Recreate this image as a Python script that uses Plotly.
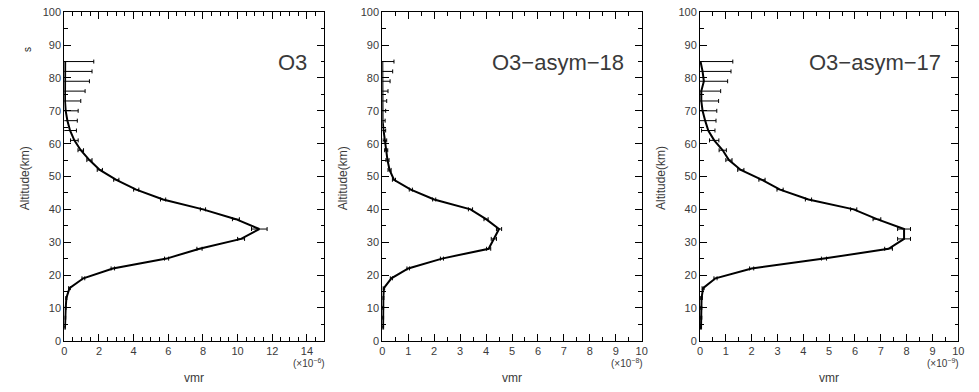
import plotly.graph_objects as go

# Altitude grid (km)
altitude = [85, 82, 79, 76, 73, 70, 67, 64, 61, 58, 55, 52, 49, 46, 43, 40,
            37, 34, 31, 28, 25, 22, 19, 16, 13, 10, 7, 4]

# Panel 1: O3 (x1e-6)
o3 = [0.05, 0.05, 0.04, 0.03, 0.04, 0.08, 0.18, 0.33, 0.58, 0.95, 1.45, 2.05,
      3.0, 4.15, 5.7, 8.0, 9.9, 11.25, 10.2, 7.8, 5.9, 2.8, 1.1, 0.3, 0.12,
      0.08, 0.06, 0.04]
o3_err = [1.65, 1.55, 1.41, 1.17, 0.91, 0.72, 0.57, 0.37, 0.22, 0.16, 0.15,
          0.15, 0.15, 0.15, 0.15, 0.15, 0.2, 0.45, 0.2, 0.15, 0.12, 0.1,
          0.08, 0.05, 0.03, 0.02, 0.02, 0.02]

# Panel 2: O3-asym-18 (x1e-8)
asym18 = [0.0, 0.0, 0.0, 0.0, 0.0, 0.0, 0.01, 0.05, 0.1, 0.15, 0.2,
          0.28, 0.45, 1.1, 2.0, 3.4, 4.0, 4.5, 4.3, 4.1, 2.3, 1.0, 0.35, 0.06,
          0.04, 0.03, 0.03, 0.03]
asym18_err = [0.45, 0.4, 0.3, 0.22, 0.17, 0.13, 0.1, 0.08, 0.07, 0.06, 0.06,
              0.06, 0.06, 0.06, 0.06, 0.08, 0.08, 0.1, 0.1, 0.08, 0.06, 0.05,
              0.04, 0.03, 0.02, 0.02, 0.02, 0.02]

# Panel 3: O3-asym-17 (x1e-9)
asym17 = [0.02, 0.1, 0.15, 0.05, 0.05, 0.1, 0.2, 0.32, 0.55, 0.88, 1.12, 1.58,
          2.4, 3.1, 4.2, 5.95, 6.85, 7.9, 7.9, 7.3, 4.8, 2.0, 0.6, 0.12, 0.06,
          0.05, 0.05, 0.04]
asym17_err = [1.25, 1.1, 0.92, 0.75, 0.67, 0.55, 0.42, 0.26, 0.18, 0.14,
              0.12, 0.12, 0.12, 0.12, 0.12, 0.12, 0.15, 0.25, 0.25, 0.15,
              0.1, 0.08, 0.06, 0.04, 0.03, 0.02, 0.02, 0.02]

panel_names = ["O3", "O3\u2212asym\u221218", "O3\u2212asym\u221217"]
x_ranges = [[0, 15], [0, 10], [0, 10]]
x_dticks = [2, 1, 1]
x_minor = [0.5, 0.5, 0.5]
exponents = ["\u22126", "\u22128", "\u22129"]

W, H = 979, 392
x_px = [(64.3, 324.3), (382.3, 641.7), (700.0, 958.3)]
y_top_px, y_bot_px = 12.3, 340.7
yd = [(H - y_bot_px) / H, (H - y_top_px) / H]

fig = go.Figure()
series = [(o3, o3_err), (asym18, asym18_err), (asym17, asym17_err)]
font_col = "#3a3a3a"
FAM = "Liberation Sans, Arial, sans-serif"
tfont = dict(family=FAM, size=11, color=font_col)

for i, (vals, errs) in enumerate(series):
    sx = "" if i == 0 else str(i + 1)
    fig.add_trace(go.Scatter(
        x=vals, y=altitude, mode="lines",
        line=dict(color="black", width=2),
        error_x=dict(type="data", array=errs, symmetric=True,
                     color="black", thickness=1, width=2),
        xaxis="x" + sx, yaxis="y" + sx, showlegend=False,
        hoverinfo="skip"))
    axis_common = dict(showline=True, linecolor="black", linewidth=1,
                       mirror="ticks", ticks="inside", tickcolor="black",
                       showgrid=False, zeroline=False, tickfont=tfont,
                       automargin=False)
    fig.layout["xaxis" + sx] = dict(
        domain=[x_px[i][0] / W, x_px[i][1] / W], range=x_ranges[i],
        dtick=x_dticks[i], tick0=0, ticklen=7,
        minor=dict(dtick=x_minor[i], ticklen=3.5, ticks="inside",
                   tickcolor="black"),
        anchor="y" + sx, **axis_common)
    fig.layout["yaxis" + sx] = dict(
        domain=yd, range=[0, 100], dtick=10, tick0=0, ticklen=7,
        minor=dict(dtick=5, ticklen=3.5, ticks="inside", tickcolor="black"),
        anchor="x" + sx, **axis_common)

    x0, x1 = x_px[i]
    # panel label
    fig.add_annotation(text=panel_names[i], xref="x" + sx + " domain",
                       yref="paper", x=0.94, y=(H - 62) / H,
                       xanchor="right", yanchor="middle", showarrow=False,
                       font=dict(family=FAM, size=22, color=font_col))
    # y title
    fig.add_annotation(text="Altitude(km)", xref="paper", yref="paper",
                       x=(x0 - 39) / W, y=(H - 178) / H, textangle=-90,
                       xanchor="center", yanchor="middle", showarrow=False,
                       font=dict(family=FAM, size=12, color=font_col))
    # x title
    fig.add_annotation(text="vmr", xref="paper", yref="paper",
                       x=((x0 + x1) / 2) / W, y=(H - 378) / H,
                       xanchor="center", yanchor="middle", showarrow=False,
                       font=dict(family=FAM, size=12, color=font_col))
    # exponent
    fig.add_annotation(text="(\u00d710<sup>" + exponents[i] + "</sup>)",
                       xref="paper", yref="paper",
                       x=(x1 - 15) / W, y=(H - 363) / H,
                       xanchor="center", yanchor="middle", showarrow=False,
                       font=dict(family=FAM, size=10, color=font_col))

# clipped stray glyph at the top-left corner
fig.add_annotation(text="s", xref="paper", yref="paper", x=20 / W,
                   y=(H - 45) / H, showarrow=False, textangle=-90,
                   font=dict(family=FAM, size=10, color="#222"))

fig.update_layout(width=W, height=H,
                  margin=dict(l=0, r=0, t=0, b=0, pad=0, autoexpand=False),
                  paper_bgcolor="white", plot_bgcolor="white")
fig.write_html("out.html")
